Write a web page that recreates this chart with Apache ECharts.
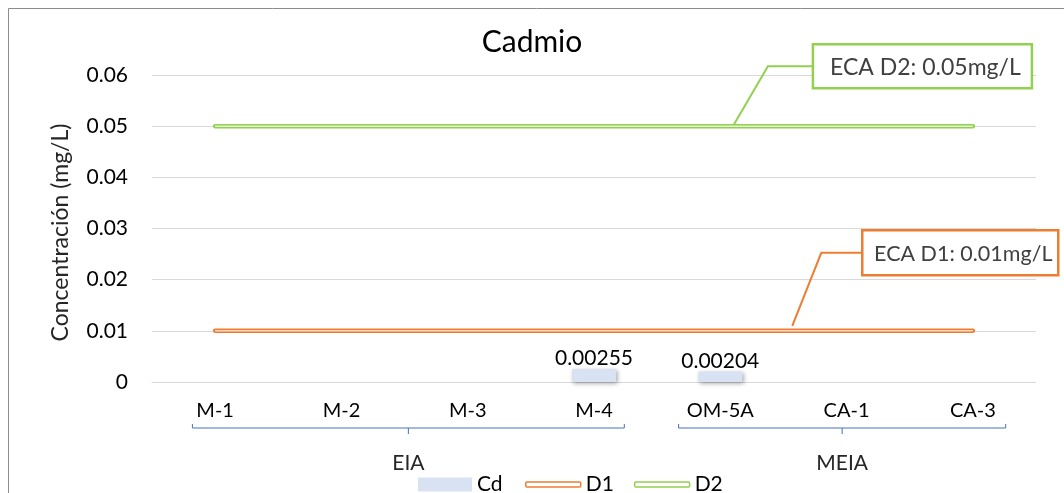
<!DOCTYPE html>
<html>
<head>
<meta charset="utf-8">
<script src="https://cdn.jsdelivr.net/npm/echarts@6/dist/echarts.min.js"></script>
<style>
  html, body { margin: 0; padding: 0; background: #fff; }
  #chart { width: 1064px; height: 493px; }
</style>
</head>
<body>
<div id="chart"></div>
<script>
// sample stations and their study group
const categories = ['M-1', 'M-2', 'M-3', 'M-4', 'OM-5A', 'CA-1', 'CA-3'];
const groups = [
  { name: 'EIA', from: 0, to: 3 },
  { name: 'MEIA', from: 4, to: 6 }
];

// Cd concentration (mg/L), only two stations above detection
const cdValues = [null, null, null, 0.00255, 0.00204, null, null];
// ECA limits
const d1Values = [0.01, 0.01, 0.01, 0.01, 0.01, 0.01, 0.01];
const d2Values = [0.05, 0.05, 0.05, 0.05, 0.05, 0.05, 0.05];

const yTicks = [0, 0.01, 0.02, 0.03, 0.04, 0.05, 0.06];
const d1Note = 'ECA D1: 0.01mg/L';
const d2Note = 'ECA D2: 0.05mg/L';

const FONT = 'Lato';
const ORANGE = '#ED7D31';
const GREEN = '#92D050';

const chart = echarts.init(document.getElementById('chart'));

const option = {
  animation: false,
  textStyle: { fontFamily: FONT },
  title: {
    text: 'Cadmio',
    left: 'center',
    top: 22,
    textStyle: { fontFamily: FONT, fontSize: 30, fontWeight: 'normal', color: '#000' }
  },
  grid: { left: 152, right: 28, top: 75, bottom: 111 },
  legend: [
    {
      data: [{ name: 'Cd', icon: 'rect' }],
      left: 418, top: 474, padding: 0,
      itemWidth: 54, itemHeight: 14, itemGap: 10,
      textStyle: { fontFamily: FONT, fontSize: 21, color: '#000' }
    },
    {
      data: [
        { name: 'D1', icon: 'roundRect', itemStyle: { color: '#fff', borderColor: ORANGE, borderWidth: 1.5 } },
        { name: 'D2', icon: 'roundRect', itemStyle: { color: '#fff', borderColor: GREEN, borderWidth: 1.5 } }
      ],
      left: 525, top: 474, padding: 0,
      itemWidth: 55, itemHeight: 5, itemGap: 20,
      textStyle: { fontFamily: FONT, fontSize: 21, color: '#000' }
    }
  ],
  xAxis: {
    type: 'category',
    data: categories,
    axisLine: { lineStyle: { color: '#D9D9D9', width: 1 } },
    axisTick: { show: false },
    axisLabel: { margin: 19, fontFamily: FONT, fontSize: 20, color: '#000' }
  },
  yAxis: {
    type: 'value',
    min: 0, max: 0.06, interval: 0.01,
    name: 'Concentración (mg/L)',
    nameLocation: 'middle',
    nameGap: 80,
    nameTextStyle: { fontFamily: FONT, fontSize: 23, color: '#262626', padding: [0, 0, 0, -8] },
    axisLine: { show: false },
    axisTick: { show: false },
    axisLabel: {
      margin: 24, fontFamily: FONT, fontSize: 21, color: '#000',
      formatter: (v) => {
        const t = yTicks.find((k) => Math.abs(k - v) < 1e-9);
        return t === 0 ? '0' : (t !== undefined ? t.toFixed(2) : '');
      }
    },
    splitLine: { lineStyle: { color: '#D9D9D9', width: 1 } }
  },
  series: [
    {
      name: 'Cd',
      type: 'bar',
      data: cdValues,
      barWidth: 44,
      itemStyle: {
        color: '#D9E2F3',
        shadowBlur: 4,
        shadowColor: 'rgba(0,0,0,0.35)',
        shadowOffsetX: 1.5,
        shadowOffsetY: 1.5
      },
      label: {
        show: true, position: 'top', distance: 1, offset: [0, 1],
        fontFamily: FONT, fontSize: 21, color: '#000',
        formatter: (p) => String(p.value)
      }
    },
    {
      name: 'D1', type: 'line', data: d1Values, symbol: 'none',
      lineStyle: { color: ORANGE, width: 4.5, cap: 'round' },
      itemStyle: { color: ORANGE }, z: 3
    },
    {
      name: 'D1i', type: 'line', data: d1Values, symbol: 'none', silent: true,
      lineStyle: { color: '#F9D9C3', width: 1.5 }, z: 4
    },
    {
      name: 'D2', type: 'line', data: d2Values, symbol: 'none',
      lineStyle: { color: GREEN, width: 4.5, cap: 'round' },
      itemStyle: { color: GREEN }, z: 3
    },
    {
      name: 'D2i', type: 'line', data: d2Values, symbol: 'none', silent: true,
      lineStyle: { color: '#E4F1D8', width: 1.5 }, z: 4
    }
  ]
};

chart.setOption(option);

// annotations: frame, group brackets, callouts
function addExtras() {
  const px = (i, v) => chart.convertToPixel({ gridIndex: 0 }, [i, v]);
  const band = px(1, 0)[0] - px(0, 0)[0];
  const y0 = px(0, 0)[1];
  const els = [];

  // chart frame (only top/left visible)
  els.push({
    type: 'rect', shape: { x: 8.5, y: 8.5, width: 1200, height: 700 },
    style: { fill: 'none', stroke: '#8C8C8C', lineWidth: 1 }, silent: true
  });

  // group brackets below the category labels
  const brackY = y0 + 46;
  const pads = [[-0.18 * band, 0.24 * band], [-0.33 * band, 0.26 * band]];
  groups.forEach((g, k) => {
    const x1 = px(g.from, 0)[0] + pads[k][0];
    const x2 = px(g.to, 0)[0] + pads[k][1];
    const mid = (x1 + x2) / 2;
    els.push({
      type: 'polyline',
      shape: { points: [[x1, brackY - 4], [x1, brackY], [x2, brackY], [x2, brackY - 4]] },
      style: { stroke: '#4472C4', lineWidth: 1, fill: null }, silent: true
    });
    els.push({
      type: 'line', shape: { x1: mid, y1: brackY, x2: mid, y2: brackY + 6 },
      style: { stroke: '#4472C4', lineWidth: 1 }, silent: true
    });
    els.push({
      type: 'text', x: mid, y: brackY + 35,
      style: { text: g.name, fontFamily: FONT, fontSize: 21, fill: '#262626', align: 'center', verticalAlign: 'middle' },
      silent: true
    });
  });

  // callout boxes with leader lines
  function callout(text, color, size, ax, ay, ex, ey, gap, boxW, boxH) {
    const bx = ax + ex + gap;
    els.push({
      type: 'polyline',
      shape: { points: [[ax, ay], [ax + ex, ay + ey], [bx, ay + ey]] },
      style: { stroke: color, lineWidth: 2, fill: null }, silent: true
    });
    els.push({
      type: 'rect', shape: { x: bx, y: ay + ey - boxH / 2, width: boxW, height: boxH },
      style: { fill: '#fff', stroke: color, lineWidth: 2.5 }, silent: true
    });
    els.push({
      type: 'text', x: bx + boxW / 2 + 3, y: ay + ey + 1,
      style: { text, fontFamily: FONT, fontSize: size, fill: '#404040', align: 'center', verticalAlign: 'middle' },
      silent: true
    });
  }
  const p2 = px(4, 0.05);
  callout(d2Note, GREEN, 23, p2[0] + 0.1 * band, p2[1], 35, -60, 45, 219, 44);
  const p1 = px(4, 0.01);
  callout(d1Note, ORANGE, 21.5, p1[0] + 0.57 * band, p1[1] - 5, 29, -73, 41, 196, 45);

  chart.setOption({ graphic: els });
}
addExtras();
</script>
</body>
</html>
